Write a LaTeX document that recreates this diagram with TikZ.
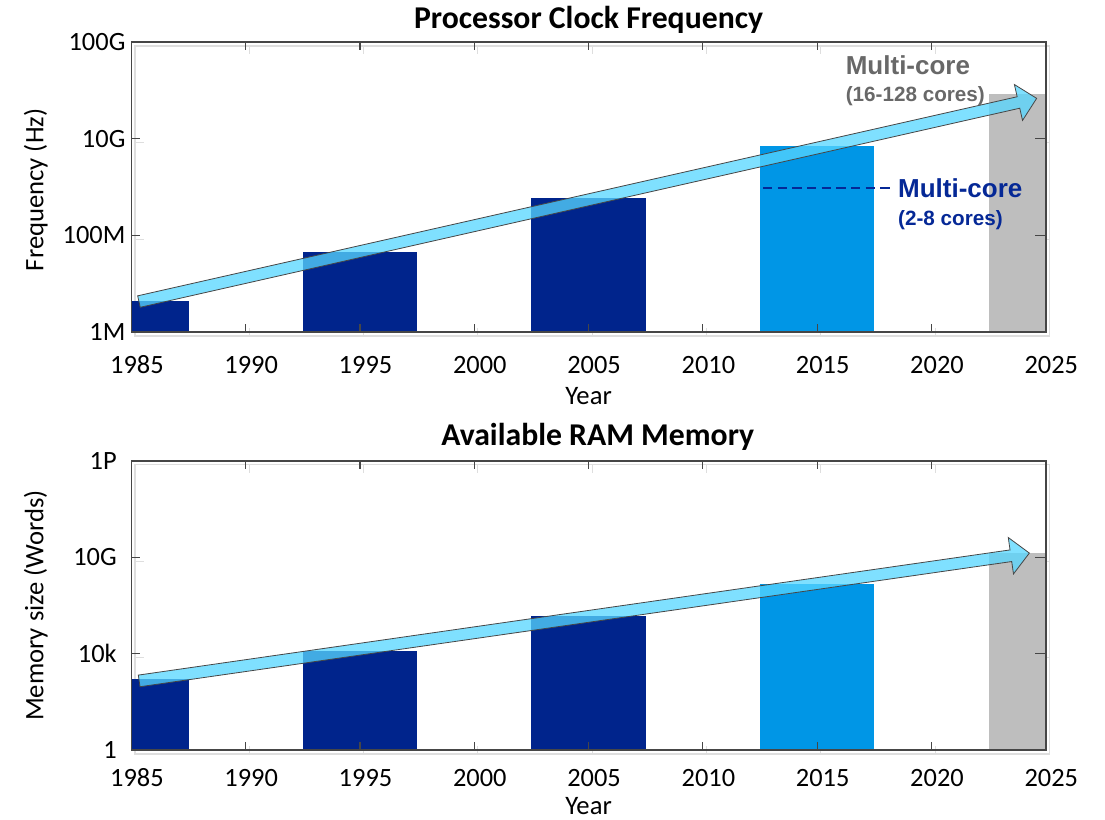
\documentclass[tikz,border=0pt]{standalone}
\usepackage{fontspec}
\setmainfont{Carlito}
\newfontfamily\arialfont{Liberation Sans}
\usetikzlibrary{calc, positioning}
\definecolor{bardark}{RGB}{0,36,140}
\definecolor{barlight}{RGB}{0,150,230}
\definecolor{bargray}{RGB}{190,190,190}
\definecolor{arrowfill}{RGB}{87,214,255}
\definecolor{axisgray}{RGB}{70,70,70}
\definecolor{framegray}{RGB}{222,222,222}
\definecolor{txtgray}{RGB}{104,104,104}
\definecolor{txtblue}{RGB}{5,40,150}
\tikzset{
  axisbox/.style={draw=axisgray, line width=1.1pt},
  shadowbox/.style={draw=framegray, line width=1.1pt},
  ticklabel/.style={font=\fontsize{19.8}{22}\selectfont, inner sep=0pt},
  axislabel/.style={font=\fontsize{20}{24}\selectfont, inner sep=0pt},
  charttitle/.style={font=\fontsize{23.8}{26}\selectfont\bfseries, inner sep=0pt},
  trend/.style={fill=arrowfill, fill opacity=0.76, draw=axisgray, line width=0.6pt},
  coremain/.style={font=\arialfont\bfseries\fontsize{19.5}{22}\selectfont, inner sep=0pt},
  coresub/.style={font=\arialfont\bfseries\fontsize{15.5}{18}\selectfont, inner sep=0pt},
  coreline/.style={draw=txtblue, line width=1.5pt, dash pattern=on 7pt off 4pt}
}
% box with year ticks and three level ticks
\newcommand{\plotframe}[1]{%
  \draw[#1] (0,0) rectangle (40,3);
  \foreach \yr in {5,10,...,35} {
    \draw[#1, line width=0.8pt] (\yr,0) -- ++(0,6pt);
    \draw[#1, line width=0.8pt] (\yr,3) -- ++(0,-6pt);
  }
  \foreach \k in {1,2} {
    \draw[#1, line width=0.8pt] (0,\k) -- ++(6.5pt,0);
    \draw[#1, line width=0.8pt] (40,\k) -- ++(-8pt,0);
  }}
% wide trend arrow from #1 to #2
\newcommand{\trendarrow}[2]{%
  \coordinate (#2-h) at ($(#2)!14pt!(#1)$);
  \draw[trend] ($(#1)!4.4pt!90:(#2)$) -- ($(#2-h)!4.4pt!90:(#2)$)
    -- ($(#2-h)!13.8pt!90:(#2)$) -- (#2)
    -- ($(#2-h)!13.8pt!-90:(#2)$) -- ($(#2-h)!4.4pt!-90:(#2)$)
    -- ($(#1)!4.4pt!-90:(#2)$) -- cycle;}

\begin{document}
\begin{tikzpicture}[x=0.75pt, y=-0.75pt]
  \useasboundingbox (0,0) rectangle (1105,819);

  % clock frequency
  \begin{scope}[shift={(131.4,332)}, x=17.145pt, y=72.5pt]
    \begin{scope}[shift={(0.16,-0.04)}]
      \plotframe{shadowbox}
    \end{scope}
    \foreach \yr/\h/\c in {0/0.32/bardark, 10/0.83/bardark, 20/1.39/bardark, 30/1.92/barlight, 40/2.46/bargray}
      \fill[\c] ({max(\yr-2.5,0)},0) rectangle ({min(\yr+2.5,40)},\h);
    \plotframe{axisbox}

    \foreach \yr in {1985,1990,...,2025}
      \node[ticklabel, anchor=base, yshift=-31.1pt] (fyr\yr) at ({\yr-1985+0.24},0) {\yr};
    \foreach \k/\lab in {0/1M, 1/100M, 2/10G, 3/100G}
      \node[ticklabel, anchor=east, xshift=-4.3pt] (flev\k) at (0,\k) {\lab};
    \node[axislabel, anchor=base, yshift=-54.7pt] (fyear) at (20,0) {Year};
    \node[axislabel, rotate=90, anchor=base] (fylab) at ($(0,1.47)+(-66pt,0)$) {Frequency (Hz)};
    \node[charttitle, anchor=base, yshift=10.3pt] (ftitle) at (20,3) {Processor Clock Frequency};

    \coordinate (fstart) at (0.33,0.315);
    \coordinate (fend) at (39.6,2.417);
    \trendarrow{fstart}{fend}

    \node[coremain, text=txtblue, anchor=west] (fmcblue) at (33.53,1.485) {Multi-core};
    \node[coresub, text=txtblue, below=9pt of fmcblue.south west, anchor=north west] (fmcbluesub) {(2-8 cores)};
    \coordinate (fdash) at (27.63,1.485);
    \draw[coreline] (fdash) -- ([xshift=-4.5pt]fmcblue.west);

    \node[coremain, text=txtgray, anchor=west] (fmcgray) at (31.24,2.761) {Multi-core};
    \node[coresub, text=txtgray, below=8.3pt of fmcgray.south west, anchor=north west] (fmcgraysub) {(16-128 cores)};
  \end{scope}

  % memory size
  \begin{scope}[shift={(131.4,750)}, x=17.145pt, y=72.3pt]
    \begin{scope}[shift={(0.16,-0.04)}]
      \plotframe{shadowbox}
    \end{scope}
    \foreach \yr/\h/\c in {0/0.74/bardark, 10/1.03/bardark, 20/1.395/bardark, 30/1.72/barlight, 40/2.04/bargray}
      \fill[\c] ({max(\yr-2.5,0)},0) rectangle ({min(\yr+2.5,40)},\h);
    \plotframe{axisbox}

    \foreach \yr in {1985,1990,...,2025}
      \node[ticklabel, anchor=base, yshift=-27.5pt] (myr\yr) at ({\yr-1985+0.24},0) {\yr};
    \foreach \k/\lab in {0/1, 1/10k, 2/10G, 3/1P}
      \node[ticklabel, anchor=east, xshift=-10.8pt] (mlev\k) at (0,\k) {\lab};
    \node[axislabel, anchor=base, yshift=-48pt] (myear) at (20,0) {Year};
    \node[axislabel, rotate=90, anchor=base] (mylab) at ($(0,1.5)+(-66pt,0)$) {Memory size (Words)};
    \node[charttitle, anchor=base, yshift=11.25pt] (mtitle) at (20.4,3) {Available RAM Memory};

    \coordinate (mstart) at (0.34,0.717);
    \coordinate (mend) at (39.28,2.043);
    \trendarrow{mstart}{mend}
  \end{scope}
\end{tikzpicture}
\end{document}
